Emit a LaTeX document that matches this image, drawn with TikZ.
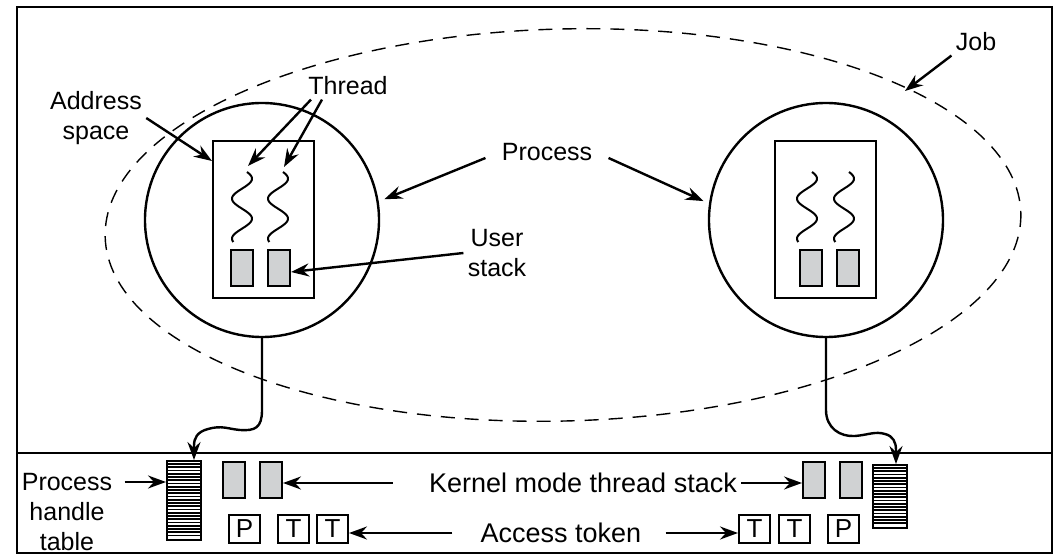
\documentclass[tikz,border=0pt]{standalone}
\usepackage{fontspec}
\setmainfont{Liberation Sans}
\usepackage{tikz}
\usetikzlibrary{positioning,arrows.meta}
\definecolor{stackgray}{RGB}{208,210,211}

\begin{document}
\begin{tikzpicture}[x=0.5pt, y=-0.5pt,
    lbl/.style={font=\fontsize{12.5}{15}\selectfont, inner sep=2pt, align=center},
    biglbl/.style={lbl, font=\fontsize{13.5}{15}\selectfont},
    arr/.style={-{Stealth[length=9pt,width=6.5pt,inset=3pt]}, line width=1.2pt},
    proc/.style={circle, draw, line width=1.2pt, minimum size=117pt, inner sep=0pt},
    addr/.style={rectangle, draw, line width=1pt, minimum width=50.5pt, minimum height=78.5pt, inner sep=0pt},
    stk/.style={rectangle, draw, line width=1pt, fill=stackgray, minimum width=11pt, minimum height=18pt, inner sep=0pt},
    tok/.style={rectangle, draw, line width=1pt, minimum width=15.5pt, minimum height=14pt, inner sep=0pt, font=\fontsize{13}{15}\selectfont},
    htab/.style={rectangle, draw, line width=1pt, minimum width=17pt, inner sep=0pt},
    wire/.style={line width=1.2pt}]
    \useasboundingbox (0,0) rectangle (1056,555);
    % frame and kernel line
    \draw[line width=1.4pt] (17,7) rectangle (1052,553);
    \draw[line width=1.4pt] (17,453) -- (1052,453);
    % job
    \draw[dash pattern=on 7pt off 5pt, line width=0.7pt, rotate around={1.5:(563,225)}] (563,225) ellipse [x radius=458, y radius=196];

    % processes
    \node (lproc) [proc] at (262,220) {};
    \node (rproc) [proc] at (826,220) {};
    \node (laddr) [addr] at (263.5,219.5) {};
    \node (raddr) [addr] at (825,219.5) {};
    \node (ls1) [stk] at (242,268) {};
    \node (ls2) [stk, right=6.5pt of ls1] {};
    \node (rs1) [stk] at (810.5,268) {};
    \node (rs2) [stk, right=6.5pt of rs1] {};
    \foreach \c in {242,278,807,844}
        \draw[line width=1pt] plot[domain=30:660, samples=80, smooth] ({\c+10*sin(\x)}, {172+(\x-30)/9});
    \coordinate (lt1) at (248,166);
    \coordinate (lt2) at (284,167);
    \coordinate (jobpt) at (905,91);

    % labels
    \node (job) [lbl] at (976,42) {Job};
    \node (thread) [lbl] at (348,86) {Thread};
    \node (addrlbl) [lbl] at (96,118) {Address\\space};
    \node (proclbl) [lbl] at (547,152) {Process};
    \node (ustack) [lbl] at (497,253) {User\\stack};

    \draw[arr] (job.south west) -- (jobpt);
    \draw[arr] ([xshift=3.5pt]thread.south west) -- (lt1);
    \draw[arr] ([xshift=9pt]thread.south west) -- (lt2);
    \draw[arr] (addrlbl.east) -- ([yshift=-10.5pt]laddr.north west);
    \draw[arr, shorten >=3pt] ([shift={(-12,6)}]proclbl.west) -- (lproc.9);
    \draw[arr, shorten >=3pt] ([shift={(12,6)}]proclbl.east) -- (rproc.172);
    \draw[arr] (ustack.west) -- ([yshift=-2pt]ls2.east);

    % kernel part
    \node (ltab) [htab, minimum height=39.5pt] at (184,500.5) {};
    \node (rtab) [htab, minimum height=31.5pt] at (889.5,496.5) {};
    \foreach \yy in {464,467.25,...,538.5}
        \draw[line width=0.9pt] (167,\yy) -- (201,\yy);
    \foreach \yy in {468,471.25,...,526}
        \draw[line width=0.9pt] (872.5,\yy) -- (906.5,\yy);

    \node (ks1) [stk] at (234,480) {};
    \node (ks2) [stk, right=6.5pt of ks1] {};
    \node (rks1) [stk] at (814,480) {};
    \node (rks2) [stk, right=6.5pt of rks1] {};

    \node (lP) [tok] at (244.5,529) {P};
    \node (lT1) [tok, right=8pt of lP] {T};
    \node (lT2) [tok, right=3pt of lT1] {T};
    \node (rT1) [tok] at (754.5,529) {T};
    \node (rT2) [tok, right=3.5pt of rT1] {T};
    \node (rP) [tok, right=8pt of rT2] {P};

    \node (hlbl) [lbl] at (67,512) {Process\\handle\\table};
    \node (kern) [biglbl] at (583,483) {Kernel mode thread stack};
    \node (acc) [biglbl] at (561,533) {Access token};

    \draw[arr] ([shift={(8,-30)}]hlbl.east) -- ([yshift=9.25pt]ltab.west);
    \draw[arr] ([xshift=-16pt]kern.west) -- (kern.west -| ks2.east);
    \draw[arr] (kern.east) -- (kern.east -| rks1.west);
    \draw[arr] ([xshift=-12pt]acc.west) -- (acc.west -| lT2.east);
    \draw[arr] ([xshift=10pt]acc.east) -- (acc.east -| rT1.west);

    % handles
    \draw[wire, -{Stealth[length=9pt,width=6.5pt,inset=3pt]}] (lproc.south) -- (262,410)
        .. controls (262,428) and (255,431) .. (240,430)
        .. controls (228,429) and (222,425) .. (208,429)
        .. controls (197,432) and (194,438) .. (194,446) -- ([xshift=5pt]ltab.north);
    \draw[wire, -{Stealth[length=9pt,width=6.5pt,inset=3pt]}] (rproc.south) -- (826,410)
        .. controls (826,428) and (840,437) .. (855,436)
        .. controls (868,435) and (875,431) .. (885,434)
        .. controls (893,436) and (896,442) .. (896,450) -- ([xshift=3.25pt]rtab.north);
\end{tikzpicture}
\end{document}
